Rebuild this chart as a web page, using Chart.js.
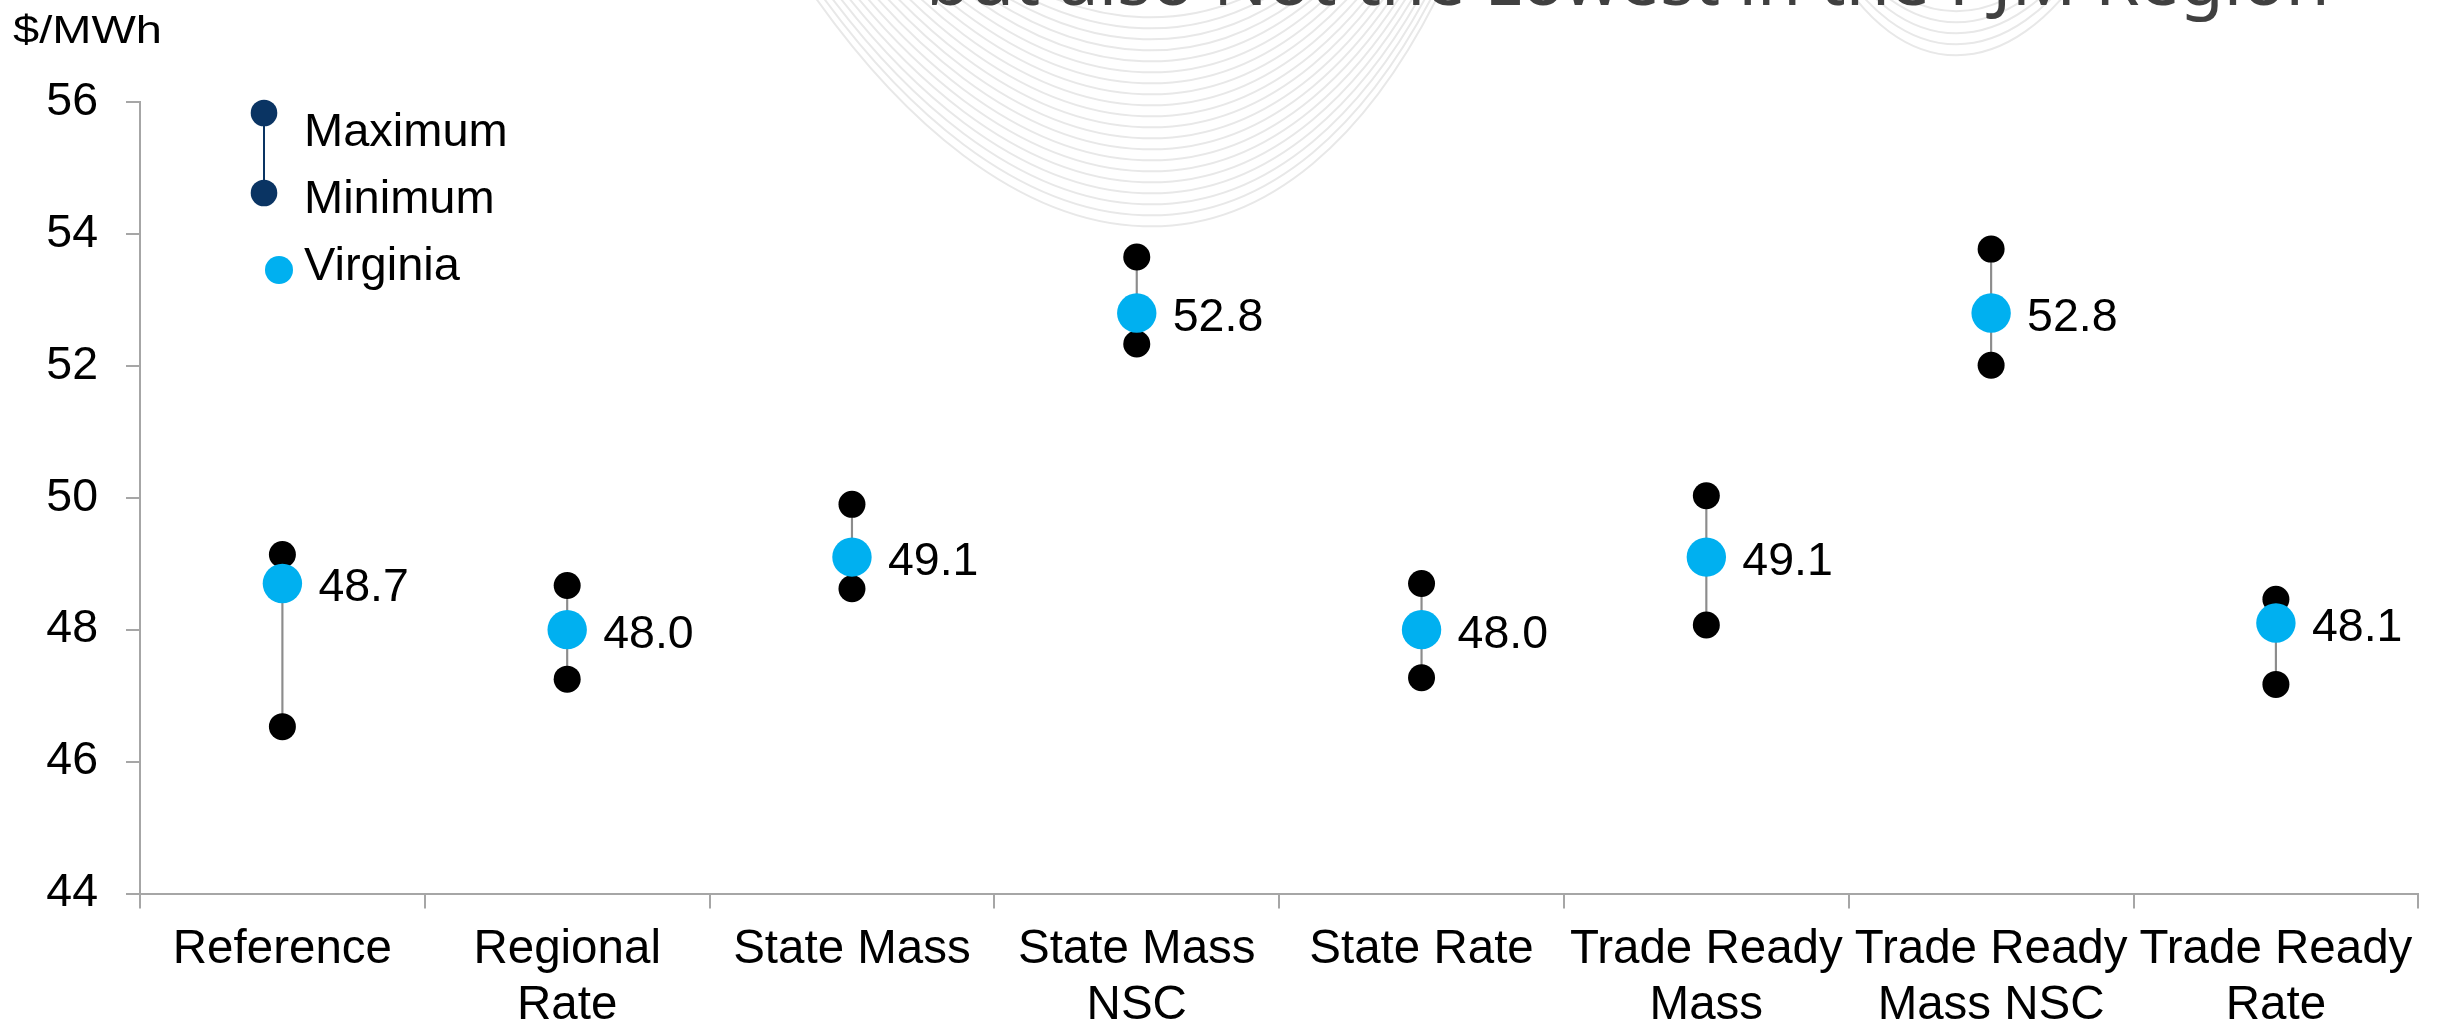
<!DOCTYPE html>
<html>
<head>
<meta charset="utf-8">
<script src="https://cdn.jsdelivr.net/npm/chart.js@4"></script>
<style>
  body { margin: 0; background: #fff; overflow: hidden; }
  #wrap { width: 2438px; height: 1025px; }
</style>
</head>
<body>
<div id="wrap"><canvas id="chart"></canvas></div>
<script>
// Levelized cost by scenario, $/MWh
const categories = [
  'Reference',
  ['Regional', 'Rate'],
  'State Mass',
  ['State Mass', 'NSC'],
  'State Rate',
  ['Trade Ready', 'Mass'],
  ['Trade Ready', 'Mass NSC'],
  ['Trade Ready', 'Rate']
];
const maxValues      = [49.14, 48.67, 49.90, 53.65, 48.70, 50.03, 53.77, 48.46];
const minValues      = [46.53, 47.25, 48.62, 52.33, 47.27, 48.07, 52.01, 47.17];
const virginiaValues = [48.7, 48.0, 49.1, 52.8, 48.0, 49.1, 52.8, 48.1];

const yMin = 44;
const yMax = 56;
const yStep = 2;

const unitLabel = '$/MWh';
const titleText = 'but also Not the Lowest in the PJM Region';

const FONT = "'Liberation Sans', Arial, sans-serif";
const NAVY = '#0a3463';
const BLUE = '#00b0f0';
const AXIS = '#a6a6a6';

Chart.defaults.font.family = FONT;

// slide background: wave ribbons, the clipped headline and the unit label
const backdrop = {
  id: 'backdrop',
  beforeDraw(chart) {
    const ctx = chart.ctx;
    ctx.save();
    ctx.strokeStyle = '#e8e8e8';
    ctx.lineWidth = 2;
    for (let i = 0; i < 20; i++) {
      const d = i * 11;
      ctx.beginPath();
      ctx.moveTo(790, -40 - d);
      ctx.bezierCurveTo(1010, 300 - d, 1290, 330 - d, 1455, -40 - d);
      ctx.stroke();
    }
    for (let i = 0; i < 5; i++) {
      const d = i * 11;
      ctx.beginPath();
      ctx.moveTo(1830, -40 - d);
      ctx.bezierCurveTo(1900, 87 - d, 2010, 87 - d, 2090, -40 - d);
      ctx.stroke();
    }

    ctx.fillStyle = '#404040';
    ctx.textBaseline = 'alphabetic';
    ctx.textAlign = 'left';
    ctx.font = "100px 'Noto Sans'";
    const size = 100 * 1404 / ctx.measureText(titleText).width;
    ctx.font = size.toFixed(1) + "px 'Noto Sans'";
    ctx.fillText(titleText, 926, 5);

    // unit label is set a little wider than the regular face
    ctx.fillStyle = '#000';
    ctx.font = '39px ' + FONT;
    ctx.translate(13, 43);
    ctx.scale(149 / ctx.measureText(unitLabel).width, 1);
    ctx.fillText(unitLabel, 0, 0);
    ctx.restore();
  }
};

// value labels to the right of the Virginia points
const valueLabels = {
  id: 'valueLabels',
  afterDatasetsDraw(chart) {
    const ctx = chart.ctx;
    const meta = chart.getDatasetMeta(3);
    ctx.save();
    ctx.fillStyle = '#000';
    ctx.font = '46.5px ' + FONT;
    ctx.textAlign = 'left';
    ctx.textBaseline = 'alphabetic';
    meta.data.forEach((pt, i) => {
      ctx.fillText(virginiaValues[i].toFixed(1), pt.x + 36, pt.y + 18);
    });
    ctx.restore();
  }
};

// hand-made legend in the top-left corner of the plot
const rangeLegend = {
  id: 'rangeLegend',
  afterDraw(chart) {
    const ctx = chart.ctx;
    const ds = chart.data.datasets;
    ctx.save();
    ctx.strokeStyle = NAVY;
    ctx.lineWidth = 2;
    ctx.beginPath();
    ctx.moveTo(264, 113);
    ctx.lineTo(264, 193);
    ctx.stroke();
    ctx.fillStyle = NAVY;
    [113, 193].forEach(y => {
      ctx.beginPath();
      ctx.arc(264, y, 13.3, 0, Math.PI * 2);
      ctx.fill();
    });
    ctx.fillStyle = BLUE;
    ctx.beginPath();
    ctx.arc(279, 270, 14, 0, Math.PI * 2);
    ctx.fill();

    ctx.fillStyle = '#000';
    ctx.font = '47px ' + FONT;
    ctx.textAlign = 'left';
    ctx.textBaseline = 'alphabetic';
    ctx.fillText(ds[1].label, 304, 146);
    ctx.fillText(ds[2].label, 304, 213);
    ctx.fillText(ds[3].label, 304, 280);
    ctx.restore();
  }
};

const ctx = document.getElementById('chart').getContext('2d');
new Chart(ctx, {
  data: {
    labels: categories,
    datasets: [
      {
        type: 'bar',
        label: 'Range',
        data: minValues.map((v, i) => [v, maxValues[i]]),
        backgroundColor: '#8c8c8c',
        borderWidth: 0,
        barThickness: 1.5,
        order: 4
      },
      {
        type: 'line',
        label: 'Maximum',
        data: maxValues,
        showLine: false,
        pointRadius: 13.5,
        pointHoverRadius: 13.5,
        pointBackgroundColor: '#000',
        pointBorderWidth: 0,
        order: 2
      },
      {
        type: 'line',
        label: 'Minimum',
        data: minValues,
        showLine: false,
        pointRadius: 13.5,
        pointHoverRadius: 13.5,
        pointBackgroundColor: '#000',
        pointBorderWidth: 0,
        order: 3
      },
      {
        type: 'line',
        label: 'Virginia',
        data: virginiaValues,
        showLine: false,
        pointRadius: 19.7,
        pointHoverRadius: 19.7,
        pointBackgroundColor: BLUE,
        pointBorderWidth: 0,
        order: 1
      }
    ]
  },
  options: {
    responsive: true,
    maintainAspectRatio: false,
    animation: false,
    events: [],
    layout: { padding: { top: 102, right: 18, left: 0, bottom: 0 } },
    plugins: {
      legend: { display: false },
      tooltip: { enabled: false }
    },
    scales: {
      x: {
        type: 'category',
        offset: true,
        grid: { offset: true, drawOnChartArea: false, tickLength: 15, color: AXIS, lineWidth: 2 },
        border: { color: AXIS, width: 2 },
        ticks: {
          color: '#000',
          font: { size: 47.5, lineHeight: 1.17 },
          padding: 14,
          maxRotation: 0,
          minRotation: 0,
          autoSkip: false
        },
        afterFit(scale) { scale.height = 131.5; }
      },
      y: {
        min: yMin,
        max: yMax,
        grid: { drawOnChartArea: false, tickLength: 14, color: AXIS, lineWidth: 2 },
        border: { color: AXIS, width: 2 },
        ticks: {
          stepSize: yStep,
          color: '#000',
          font: { size: 46.5 },
          padding: 28
        },
        afterFit(scale) { scale.width = 140; }
      }
    }
  },
  plugins: [backdrop, valueLabels, rangeLegend]
});
</script>
</body>
</html>
